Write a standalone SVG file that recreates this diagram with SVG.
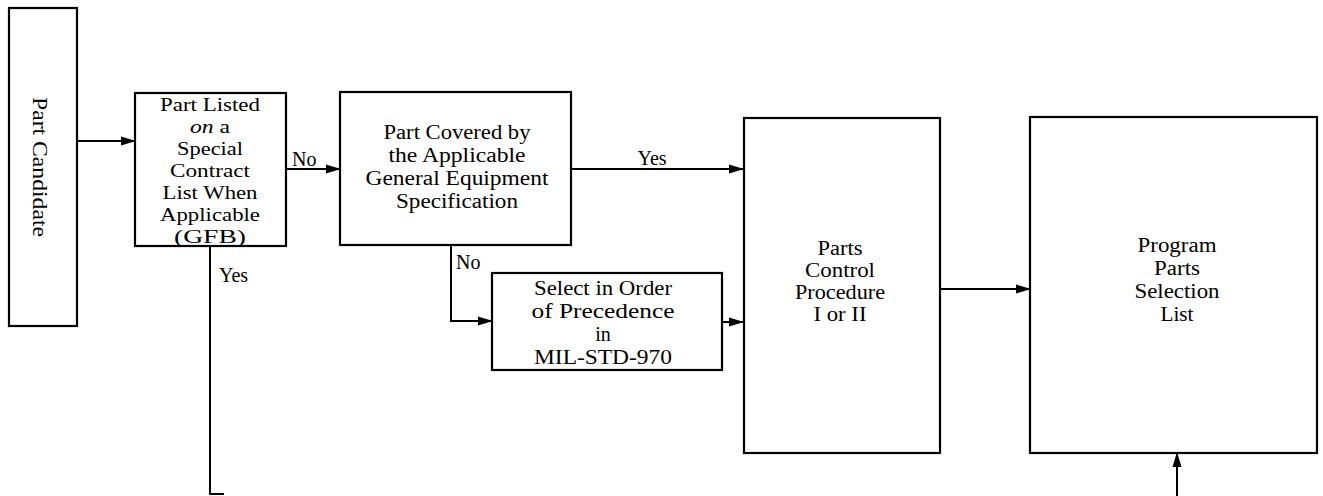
<svg xmlns="http://www.w3.org/2000/svg" width="1323" height="496" viewBox="0 0 1323 496">
<defs>
<marker id="ah" markerWidth="15" markerHeight="10" refX="14" refY="5" orient="auto" markerUnits="userSpaceOnUse">
<path d="M0,0.5 L15,5 L0,9.5 Z" fill="#000"/>
</marker>
<style>
.box{fill:#fff;stroke:#000;stroke-width:2.2}
.t{font-family:"Liberation Serif","Times New Roman",serif;font-size:20px;fill:#000;text-anchor:middle}
.s{font-size:19.2px}
.lb{font-family:"Liberation Serif","Times New Roman",serif;font-size:20px;fill:#000}
.c{fill:none;stroke:#000;stroke-width:2}
</style>
</defs>
<rect width="1323" height="496" fill="#fff"/>
<g id="connectors">
<line class="c" x1="77" y1="141" x2="135" y2="141" marker-end="url(#ah)"/>
<line class="c" x1="286" y1="169" x2="340" y2="169" marker-end="url(#ah)"/>
<text class="lb" x="292" y="166">No</text>
<line class="c" x1="571" y1="169" x2="743" y2="169" marker-end="url(#ah)"/>
<text class="lb" x="652" y="165" text-anchor="middle">Yes</text>
<polyline class="c" points="451,245 451,321 492,321" marker-end="url(#ah)"/>
<text class="lb" x="456" y="269">No</text>
<line class="c" x1="722" y1="322" x2="743" y2="322" marker-end="url(#ah)"/>
<line class="c" x1="940" y1="289" x2="1030" y2="289" marker-end="url(#ah)"/>
<polyline class="c" points="210,246 210,494 224,494"/>
<text class="lb" x="219" y="282">Yes</text>
<line class="c" x1="1177" y1="496" x2="1177" y2="453" marker-end="url(#ah)"/>
</g>
<g id="part-candidate">
<rect class="box" x="9" y="8" width="68" height="318"/>
<text class="t" transform="translate(33,167) rotate(90)" style="font-size:22px" textLength="140" lengthAdjust="spacingAndGlyphs">Part Candidate</text>
</g>
<g id="special-list">
<rect class="box" x="135" y="93" width="151" height="153"/>
<text class="t s" x="210" y="111" textLength="100" lengthAdjust="spacingAndGlyphs">Part Listed</text>
<text class="t s" x="210" y="133" textLength="40" lengthAdjust="spacingAndGlyphs"><tspan font-style="italic">on</tspan> a</text>
<text class="t s" x="210" y="155" textLength="66" lengthAdjust="spacingAndGlyphs">Special</text>
<text class="t s" x="210" y="177" textLength="80" lengthAdjust="spacingAndGlyphs">Contract</text>
<text class="t s" x="210" y="199" textLength="95" lengthAdjust="spacingAndGlyphs">List When</text>
<text class="t s" x="210" y="221" textLength="100" lengthAdjust="spacingAndGlyphs">Applicable</text>
<text class="t s" x="210" y="243" textLength="72" lengthAdjust="spacingAndGlyphs">(GFB)</text>
</g>
<g id="general-spec">
<rect class="box" x="340" y="92" width="231" height="153"/>
<text class="t" x="457" y="139" textLength="147" lengthAdjust="spacingAndGlyphs">Part Covered by</text>
<text class="t" x="457" y="162" textLength="137" lengthAdjust="spacingAndGlyphs">the Applicable</text>
<text class="t" x="457" y="185" textLength="183" lengthAdjust="spacingAndGlyphs">General Equipment</text>
<text class="t" x="457" y="208" textLength="122" lengthAdjust="spacingAndGlyphs">Specification</text>
</g>
<g id="select-order">
<rect class="box" x="492" y="273" width="230" height="97"/>
<text class="t" x="603" y="295" textLength="138" lengthAdjust="spacingAndGlyphs">Select in Order</text>
<text class="t" x="603" y="318" textLength="143" lengthAdjust="spacingAndGlyphs">of Precedence</text>
<text class="t" x="603" y="341">in</text>
<text class="t" x="603" y="364" textLength="138" lengthAdjust="spacingAndGlyphs">MIL-STD-970</text>
</g>
<g id="parts-control">
<rect class="box" x="744" y="118" width="196" height="335"/>
<text class="t" x="840" y="255" textLength="45" lengthAdjust="spacingAndGlyphs">Parts</text>
<text class="t" x="840" y="277" textLength="70" lengthAdjust="spacingAndGlyphs">Control</text>
<text class="t" x="840" y="299" textLength="90" lengthAdjust="spacingAndGlyphs">Procedure</text>
<text class="t" x="840" y="321" textLength="53" lengthAdjust="spacingAndGlyphs">I or II</text>
</g>
<g id="program-list">
<rect class="box" x="1030" y="117" width="287" height="336"/>
<text class="t" x="1177" y="252" textLength="79" lengthAdjust="spacingAndGlyphs">Program</text>
<text class="t" x="1177" y="275" textLength="46" lengthAdjust="spacingAndGlyphs">Parts</text>
<text class="t" x="1177" y="298" textLength="85" lengthAdjust="spacingAndGlyphs">Selection</text>
<text class="t" x="1177" y="321" textLength="33" lengthAdjust="spacingAndGlyphs">List</text>
</g>
</svg>
